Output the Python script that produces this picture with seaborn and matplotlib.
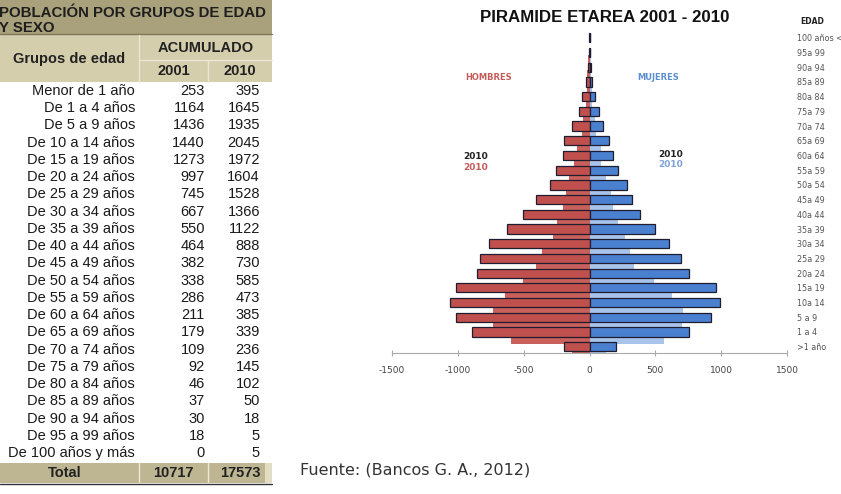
import numpy as np
import seaborn as sns
import matplotlib.pyplot as plt
from matplotlib.patches import Rectangle

# pyramid data, bottom (>1 año) to top (100 años)
age_labels = [">1 año", "1 a 4", "5 a 9", "10a 14", "15a 19", "20a 24", "25a 29",
              "30a 34", "35a 39", "40a 44", "45a 49", "50a 54", "55a 59", "60a 64",
              "65a 69", "70a 74", "75a 79", "80a 84", "85a 89", "90a 94", "95a 99",
              "100 años <"]
men_2010 = [190, 890, 1012, 1057, 1014, 852, 834, 763, 624, 503, 408, 302, 253, 205,
            193, 133, 76, 60, 30, 10, 3, 3]
women_2010 = [205, 755, 923, 988, 958, 752, 694, 603, 498, 385, 322, 283, 220, 180,
              146, 103, 69, 42, 20, 8, 2, 2]
men_2001 = [130, 597, 730, 733, 643, 505, 405, 357, 279, 244, 200, 175, 158, 120,
            95, 57, 48, 24, 20, 16, 10, 0]
women_2001 = [123, 567, 706, 707, 630, 492, 340, 310, 271, 220, 182, 163, 128, 91,
              84, 52, 44, 22, 17, 14, 8, 0]

# table data, top to bottom
table_groups = ["Menor de 1 año", "De 1 a 4 años", "De 5 a 9 años", "De 10 a 14 años",
                "De 15 a 19 años", "De 20 a 24 años", "De 25 a 29 años",
                "De 30 a 34 años", "De 35 a 39 años", "De 40 a 44 años",
                "De 45 a 49 años", "De 50 a 54 años", "De 55 a 59 años",
                "De 60 a 64 años", "De 65 a 69 años", "De 70 a 74 años",
                "De 75 a 79 años", "De 80 a 84 años", "De 85 a 89 años",
                "De 90 a 94 años", "De 95 a 99 años", "De 100 años y más"]
table_2001 = [253, 1164, 1436, 1440, 1273, 997, 745, 667, 550, 464, 382, 338, 286, 211,
              179, 109, 92, 46, 37, 30, 18, 0]
table_2010 = [395, 1645, 1935, 2045, 1972, 1604, 1528, 1366, 1122, 888, 730, 585, 473,
              385, 339, 236, 145, 102, 50, 18, 5, 5]

sns.set_style("white")
plt.rcParams["font.family"] = ["Liberation Sans", "DejaVu Sans"]

fig = plt.figure(figsize=(8.41, 4.94), dpi=100)

# ---- table (pixel coordinates) ----
tab = fig.add_axes([0, 0, 1, 1])
tab.set_xlim(0, 841)
tab.set_ylim(494, 0)
tab.axis("off")

olive = "#A9A17B"
khaki = "#D5CEAD"
total_bg = "#BEB692"
tab.add_patch(Rectangle((0, 0), 272, 34, color=olive, lw=0))
tab.plot([0, 272], [34, 34], color="#7F7858", lw=1)
tab.add_patch(Rectangle((0, 35), 272, 47, color=khaki, lw=0))
tab.plot([139, 272], [60, 60], color="#ECE7D4", lw=1)
tab.plot([139, 139], [35, 82], color="#ECE7D4", lw=1)
tab.plot([208, 208], [60, 82], color="#ECE7D4", lw=1)

tab.text(-1, 13, "POBLACIÓN POR GRUPOS DE EDAD", fontsize=10.8, weight="bold",
         color="#1E1E1E", va="center", ha="left")
tab.text(-1, 28, "Y SEXO", fontsize=10.8, weight="bold", color="#1E1E1E",
         va="center", ha="left")
tab.text(69, 59, "Grupos de edad", fontsize=10.5, weight="bold", color="#222",
         ha="center", va="center")
tab.text(206, 48, "ACUMULADO", fontsize=10.5, weight="bold", color="#222",
         ha="center", va="center")
tab.text(174, 71, "2001", fontsize=10.5, weight="bold", color="#222", ha="center", va="center")
tab.text(240, 71, "2010", fontsize=10.5, weight="bold", color="#222", ha="center", va="center")

for i, (g, a, b) in enumerate(zip(table_groups, table_2001, table_2010)):
    y = 91 + 17.24 * i
    tab.text(135, y, g, fontsize=10.5, ha="right", va="center", color="#1A1A1A")
    tab.text(205, y, str(a), fontsize=10.5, ha="right", va="center", color="#1A1A1A")
    tab.text(260, y, str(b), fontsize=10.5, ha="right", va="center", color="#1A1A1A")

tab.add_patch(Rectangle((0, 463), 265, 20, color=total_bg, lw=0))
tab.add_patch(Rectangle((265, 463), 7, 20, color="#E2DCC4", lw=0))
tab.plot([139, 139], [463, 483], color="#EEE9D8", lw=1)
tab.plot([208, 208], [463, 483], color="#EEE9D8", lw=1)
tab.plot([0, 272], [483.5, 483.5], color="#333", lw=1)
tab.text(65, 473, "Total", fontsize=10.5, weight="bold", color="#222", ha="center", va="center")
tab.text(173, 473, str(sum(table_2001)), fontsize=10.5, weight="bold", color="#222",
         ha="center", va="center")
tab.text(240, 473, str(sum(table_2010)), fontsize=10.5, weight="bold", color="#222",
         ha="center", va="center")

tab.text(300, 470, "Fuente: (Bancos G. A., 2012)", fontsize=11.5, color="#333",
         family="DejaVu Sans", ha="left", va="center")

# ---- pyramid ----
red = "#C0504D"
red_light = "#C9605C"
blue = "#4A80D0"
blue_light = "#A9C4EB"

ax = fig.add_axes([392 / 841, 141 / 494, 395 / 841, 324 / 494])
ax.patch.set_alpha(0)
pos = np.arange(len(age_labels))

sns.barplot(x=-np.array(men_2001), y=pos - 0.5, orient="y", native_scale=True,
            width=0.6, color=red_light, saturation=1, errorbar=None, linewidth=0, ax=ax)
sns.barplot(x=np.array(women_2001), y=pos - 0.5, orient="y", native_scale=True,
            width=0.6, color=blue_light, saturation=1, errorbar=None, linewidth=0, ax=ax)
sns.barplot(x=-np.array(men_2010), y=pos, orient="y", native_scale=True,
            width=0.63, color=red, saturation=1, errorbar=None,
            edgecolor="#1E1E30", linewidth=0.9, ax=ax)
sns.barplot(x=np.array(women_2010), y=pos, orient="y", native_scale=True,
            width=0.63, color=blue, saturation=1, errorbar=None,
            edgecolor="#1E1E30", linewidth=0.9, ax=ax)

ax.set_xlim(-1500, 1500)
ax.set_ylim(-0.43, 21.6)
ax.set_xticks(range(-1500, 1501, 500))
ax.set_xticklabels([str(v) for v in range(-1500, 1501, 500)], family="DejaVu Sans")
ax.set_yticks(pos)
ax.set_yticklabels(age_labels, family="DejaVu Sans")
ax.yaxis.tick_right()
ax.tick_params(axis="y", length=0, pad=7, labelsize=5.8, labelcolor="#555")
ax.tick_params(axis="x", direction="inout", length=5, color="#AAA", labelsize=6.5,
               labelcolor="#444", pad=7, bottom=True)
for s in ["top", "left", "right"]:
    ax.spines[s].set_visible(False)
ax.spines["bottom"].set_color("#AAA")
ax.set_xlabel("")
ax.set_ylabel("")

tab.text(605, 17, "PIRAMIDE ETAREA 2001 - 2010", fontsize=12.2, weight="bold",
         color="#111", ha="center", va="center")
tab.text(812, 21, "EDAD", fontsize=5.5, weight="bold", color="#222",
         ha="center", va="center", family="DejaVu Sans")
tab.text(489, 78, "HOMBRES", fontsize=6, weight="bold", color="#C55C5A",
         ha="center", va="center", family="DejaVu Sans")
tab.text(658, 78, "MUJERES", fontsize=6, weight="bold", color="#5B8FD0",
         ha="center", va="center", family="DejaVu Sans")
tab.text(476, 156, "2010", fontsize=6.5, weight="bold", color="#222",
         ha="center", va="center", family="DejaVu Sans")
tab.text(476, 167, "2010", fontsize=6.5, weight="bold", color="#C55C5A",
         ha="center", va="center", family="DejaVu Sans")
tab.text(671, 154, "2010", fontsize=6.5, weight="bold", color="#222",
         ha="center", va="center", family="DejaVu Sans")
tab.text(671, 164, "2010", fontsize=6.5, weight="bold", color="#7FA3D6",
         ha="center", va="center", family="DejaVu Sans")

fig.savefig("out.png", dpi=100)
